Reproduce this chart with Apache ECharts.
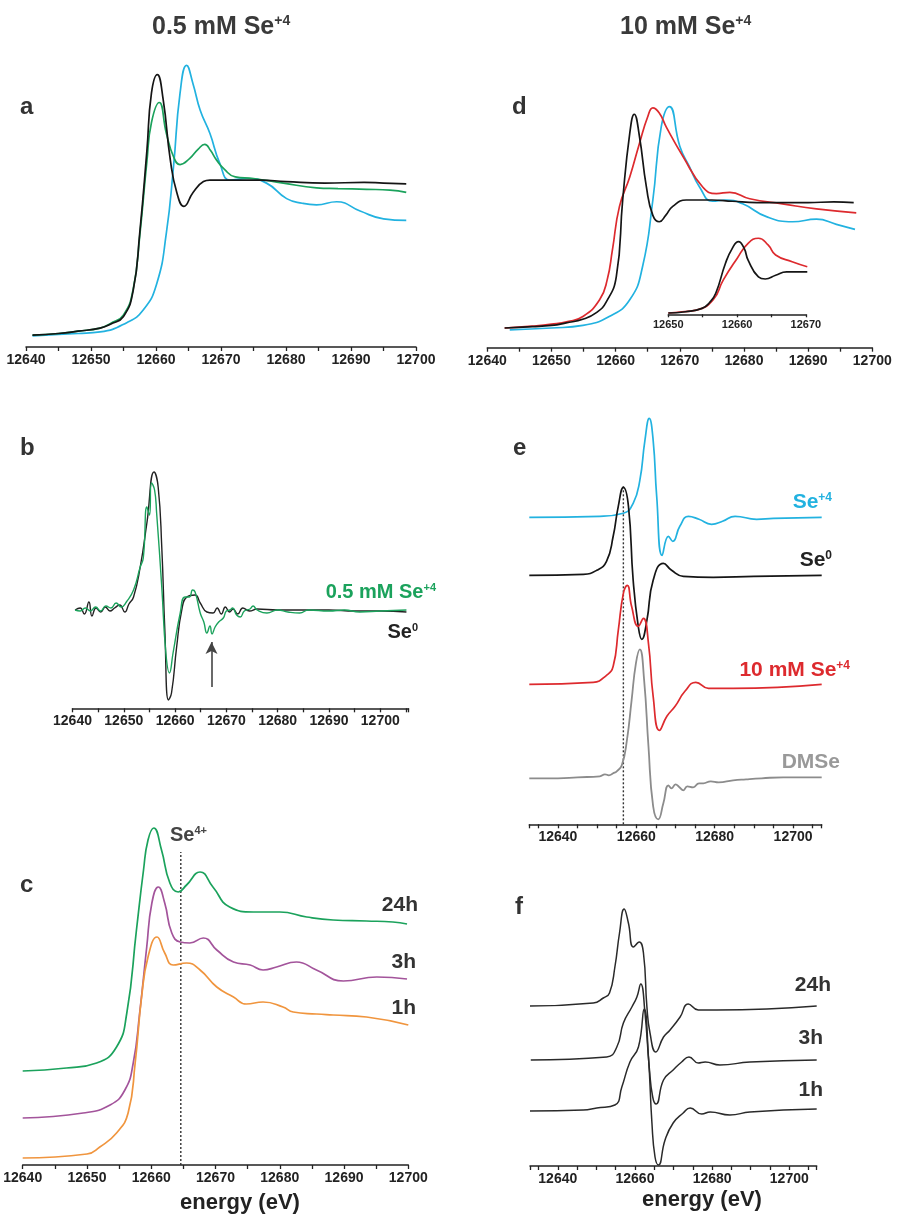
<!DOCTYPE html>
<html>
<head>
<meta charset="utf-8">
<title>Se K-edge XANES</title>
<script src="https://cdn.jsdelivr.net/npm/echarts@6/dist/echarts.min.js"></script>
<style>
  html, body { margin: 0; padding: 0; background: #fff; }
  #main { width: 899px; height: 1216px; }
</style>
</head>
<body>
<div id="main"></div>
<script>
// ---- data: [energy eV, normalised value] ----

// a: XANES, 0.5 mM Se+4
var aSe0 = [[12641, 0], [12645, 0.01], [12648, 0.025], [12651.4, 0.045], [12653, 0.07], [12655, 0.12], [12656.5, 0.29], [12657.5, 0.66], [12658.6, 1.19], [12659.3, 1.56], [12660.2, 1.68], [12661.1, 1.52], [12662.2, 1.13], [12663.2, 0.92], [12664.3, 0.83], [12665.7, 0.92], [12667.3, 0.99], [12668.3, 1.0], [12672, 1.0], [12676, 1.0], [12680, 0.99], [12686, 0.98], [12692, 0.985], [12695, 0.98], [12698.5, 0.975]];
var aSample = [[12641, 0], [12645, 0.01], [12648, 0.025], [12651.4, 0.045], [12653, 0.075], [12655, 0.13], [12656.5, 0.3], [12657.5, 0.64], [12658.6, 1.12], [12659.3, 1.37], [12660.5, 1.5], [12661.6, 1.3], [12662.7, 1.15], [12663.7, 1.1], [12665.2, 1.14], [12666.5, 1.2], [12667.5, 1.23], [12668.4, 1.19], [12669.3, 1.13], [12670.5, 1.07], [12672.2, 1.02], [12675, 1.01], [12679.6, 0.98], [12684.7, 0.95], [12688, 0.945], [12692.4, 0.94], [12696, 0.935], [12698.5, 0.92]];
var aSe4 = [[12641, -0.005], [12645, 0.005], [12648, 0.01], [12651.4, 0.02], [12655.5, 0.08], [12658, 0.16], [12660.1, 0.33], [12661.6, 0.66], [12662.7, 1.09], [12663.7, 1.56], [12664.7, 1.74], [12665.7, 1.62], [12666.8, 1.45], [12668.3, 1.3], [12669.8, 1.11], [12671.4, 1.0], [12674, 1.01], [12677, 0.98], [12680.1, 0.88], [12682.5, 0.85], [12684.7, 0.84], [12687.8, 0.86], [12691.4, 0.8], [12695, 0.75], [12698.5, 0.74]];

// b: first derivative
var bSe0 = [[12640.5, 0], [12641.5, 0.02], [12642.3, -0.04], [12643.2, 0.08], [12643.8, -0.06], [12644.6, 0.02], [12645.5, -0.02], [12646.4, 0.03], [12647.3, -0.01], [12648.2, 0.02], [12649.2, 0.05], [12650.2, -0.02], [12651, 0.06], [12651.9, 0.13], [12653.2, 0.43], [12654.5, 0.87], [12655.9, 1.38], [12656.7, 1.23], [12657.4, 0.63], [12658, -0.2], [12658.7, -0.9], [12659.3, -0.83], [12660.3, -0.37], [12661.3, 0], [12662.3, 0.13], [12663.9, 0.15], [12664.9, 0.07], [12666.2, -0.02], [12667.4, -0.03], [12668.2, 0.02], [12669, -0.04], [12669.8, 0.03], [12670.6, -0.02], [12671.3, 0.01], [12672.2, -0.04], [12673.2, 0.02], [12674.5, -0.01], [12676, 0.01], [12680, 0], [12685, 0], [12690, 0], [12695, -0.01], [12700, -0.01], [12705.1, -0.02]];
var bSample = [[12640.5, 0], [12641.5, -0.01], [12642.5, 0.02], [12643.5, -0.01], [12644.5, 0.03], [12645.5, -0.01], [12646.5, 0.04], [12647.5, 0.02], [12648.5, 0.07], [12649.5, 0.03], [12650.5, 0.08], [12651.9, 0.2], [12653.2, 0.43], [12653.8, 0.52], [12654.5, 1.03], [12655, 0.95], [12655.4, 1.27], [12656, 1.2], [12656.4, 0.97], [12657.4, 0.23], [12658.2, -0.43], [12658.9, -0.63], [12659.6, -0.43], [12661, -0.03], [12661.9, 0.13], [12662.8, 0.13], [12663.4, 0.2], [12663.9, 0.18], [12664.9, -0.03], [12665.6, -0.12], [12666.2, -0.23], [12666.8, -0.16], [12667.2, -0.24], [12667.8, -0.17], [12668.5, -0.12], [12669.4, -0.08], [12670, -0.01], [12670.7, 0], [12671.2, 0.02], [12672, -0.05], [12672.7, -0.07], [12673.5, -0.01], [12674.6, 0.01], [12675.2, 0.04], [12676, 0], [12677.9, -0.03], [12680, 0], [12682, -0.02], [12684.3, -0.03], [12686, 0], [12690, -0.01], [12693, 0], [12696, -0.02], [12700, -0.01], [12705.1, 0]];
var bArrow = [12667.1, -0.77, -0.32]; // energy, tail, head

// c: time series, 0.5 mM (offset stack)
var c24h = [[12640, 0.94], [12646.8, 0.97], [12651.5, 1.02], [12654.6, 1.18], [12656.2, 1.52], [12657.7, 2.35], [12658.8, 2.95], [12659.5, 3.25], [12660.4, 3.37], [12661.6, 3.15], [12662.9, 2.82], [12664.2, 2.73], [12665.5, 2.8], [12667.6, 2.93], [12669.6, 2.78], [12672.2, 2.58], [12675.9, 2.53], [12680, 2.53], [12684.2, 2.48], [12688.3, 2.45], [12693.5, 2.44], [12697.6, 2.43], [12699.8, 2.41]];
var c3h = [[12640, 0.47], [12649.4, 0.52], [12653.6, 0.6], [12655.9, 0.75], [12657.2, 1.02], [12658.2, 1.52], [12659.3, 2.18], [12660.1, 2.62], [12661.1, 2.78], [12662.1, 2.62], [12663.2, 2.32], [12664.5, 2.23], [12666, 2.22], [12668.1, 2.27], [12670.2, 2.15], [12672.8, 2.03], [12675.4, 2.0], [12677.4, 1.95], [12679.5, 1.98], [12682.6, 2.03], [12685.7, 1.95], [12689.9, 1.84], [12695.1, 1.88], [12699.8, 1.86]];
var c1h = [[12640, 0.07], [12650, 0.11], [12652, 0.18], [12654.6, 0.32], [12656.4, 0.52], [12657.5, 1.02], [12658.5, 1.68], [12659.5, 2.08], [12660.9, 2.28], [12662.1, 2.12], [12663.4, 2.0], [12665.5, 2.02], [12667.6, 1.95], [12670.2, 1.78], [12672.8, 1.68], [12674.8, 1.61], [12677.4, 1.63], [12680.5, 1.58], [12682.1, 1.53], [12685.7, 1.51], [12688.3, 1.5], [12693.5, 1.48], [12700, 1.4]];
var cSe4Line = [12664.6, 0, 3.13];

// d: XANES, 10 mM Se+4, with inset
var dSe0 = [[12642.7, 0], [12647, 0.01], [12650, 0.02], [12652.3, 0.04], [12655, 0.07], [12657, 0.12], [12658.5, 0.2], [12660.1, 0.4], [12661.1, 1.0], [12662.2, 1.52], [12662.9, 1.67], [12663.7, 1.5], [12664.8, 1.1], [12665.8, 0.88], [12666.8, 0.83], [12667.8, 0.88], [12668.9, 0.95], [12671, 1.0], [12675, 1.0], [12678.2, 0.99], [12682, 0.98], [12690, 0.98], [12694, 0.985], [12697.1, 0.98]];
var dSample = [[12642.7, 0], [12647, 0.015], [12650, 0.03], [12652.5, 0.05], [12654.9, 0.09], [12657.5, 0.22], [12658.7, 0.38], [12659.5, 0.61], [12660.6, 0.95], [12662.2, 1.18], [12663.7, 1.44], [12665, 1.65], [12665.8, 1.72], [12666.8, 1.68], [12667.9, 1.57], [12670.5, 1.34], [12673.6, 1.1], [12675.7, 1.05], [12677.8, 1.06], [12680.9, 1.01], [12686, 0.97], [12691.3, 0.93], [12697.5, 0.9]];
var dSe4 = [[12643.5, -0.015], [12650, 0], [12654.9, 0.02], [12659, 0.09], [12662.2, 0.22], [12664.2, 0.48], [12665.8, 1.0], [12667.1, 1.57], [12668.4, 1.73], [12670, 1.42], [12671.5, 1.26], [12673.1, 1.1], [12675.1, 0.99], [12677.2, 1.0], [12679.8, 0.97], [12683.5, 0.87], [12687.6, 0.83], [12691.3, 0.85], [12694.4, 0.81], [12697.3, 0.77]];
var insetSe0 = [[12650, 0], [12652.5, 0.03], [12654.9, 0.11], [12656, 0.25], [12656.9, 0.47], [12658.3, 1.18], [12659.3, 1.54], [12660.2, 1.7], [12661, 1.55], [12661.6, 1.26], [12663.1, 0.86], [12664.1, 0.81], [12665.6, 0.9], [12667.2, 0.98], [12670.2, 0.98]];
var insetSample = [[12650, 0], [12652, 0.03], [12654.1, 0.07], [12656.5, 0.31], [12658, 0.79], [12660, 1.3], [12661.6, 1.66], [12663.1, 1.78], [12664.5, 1.62], [12665.6, 1.38], [12668, 1.22], [12670.2, 1.1]];

// e: first derivatives, offset stack
var eSe4 = [[12632.7, 3.07], [12650.7, 3.08], [12656.7, 3.11], [12659.2, 3.21], [12660.9, 3.44], [12662.2, 3.84], [12663.3, 4.06], [12664.3, 3.84], [12665.2, 3.28], [12666.6, 2.69], [12668.2, 2.88], [12669.3, 2.83], [12671.1, 2.98], [12673.3, 3.08], [12676, 3.05], [12679.2, 3.0], [12682, 3.03], [12685.2, 3.08], [12690.7, 3.05], [12695, 3.06], [12707.3, 3.07]];
var eSe0 = [[12632.7, 2.49], [12646.5, 2.5], [12649.9, 2.54], [12652.4, 2.63], [12654.1, 2.88], [12655.4, 3.18], [12656.7, 3.37], [12658, 3.18], [12659.2, 2.44], [12660.5, 1.98], [12661.4, 1.85], [12662.7, 2.04], [12664.3, 2.44], [12666.9, 2.61], [12669, 2.54], [12672, 2.48], [12679.6, 2.47], [12690, 2.48], [12707.3, 2.49]];
var eSample = [[12632.7, 1.4], [12649, 1.42], [12652.4, 1.49], [12654.1, 1.58], [12655.4, 1.94], [12656.7, 2.31], [12657.7, 2.39], [12658.8, 2.18], [12660.5, 1.98], [12661.8, 2.06], [12663.1, 1.81], [12664.3, 1.28], [12665.9, 0.94], [12667.8, 1.08], [12669.9, 1.18], [12672.4, 1.33], [12675.2, 1.42], [12678.4, 1.36], [12684.7, 1.36], [12707.3, 1.4]];
var eDMSe = [[12632.7, 0.46], [12640, 0.46], [12645, 0.47], [12650.7, 0.48], [12652, 0.5], [12653, 0.49], [12654.1, 0.51], [12655, 0.53], [12656.3, 0.59], [12657.6, 0.84], [12658.8, 1.24], [12659.9, 1.61], [12660.9, 1.75], [12662, 1.44], [12663.1, 0.78], [12664.3, 0.18], [12665.6, 0.05], [12666.9, 0.21], [12668.2, 0.39], [12669, 0.36], [12670, 0.4], [12671, 0.37], [12672, 0.34], [12673, 0.38], [12674.5, 0.37], [12676, 0.41], [12677.1, 0.41], [12679, 0.43], [12681, 0.42], [12684.7, 0.44], [12688, 0.45], [12692, 0.46], [12697.5, 0.47], [12707.3, 0.47]];
var eSe0Line = [12656.7, 0, 3.38];

// f: derivatives vs time, 10 mM
var f24h = [[12632.8, 1.6], [12649.2, 1.63], [12651.8, 1.68], [12653.4, 1.73], [12654.8, 1.99], [12656, 2.33], [12657.2, 2.57], [12658.3, 2.43], [12659.6, 2.19], [12661.1, 2.24], [12662.2, 2.13], [12663.1, 1.59], [12663.9, 1.33], [12665.4, 1.14], [12667.4, 1.29], [12669.1, 1.36], [12671.7, 1.49], [12673.8, 1.62], [12676.4, 1.56], [12681.2, 1.56], [12707.1, 1.6]];
var f3h = [[12633, 1.06], [12652.7, 1.09], [12655.3, 1.19], [12657, 1.43], [12659.2, 1.59], [12660.5, 1.69], [12661.5, 1.82], [12662.6, 1.53], [12663.7, 0.99], [12664.6, 0.69], [12665.5, 0.62], [12667.4, 0.86], [12669.9, 0.96], [12672.1, 1.04], [12674, 1.09], [12676.4, 1.03], [12678.2, 1.04], [12682, 1.01], [12689.8, 1.04], [12707.1, 1.06]];
var f1h = [[12632.8, 0.55], [12646.6, 0.56], [12650.1, 0.58], [12654.8, 0.61], [12656.6, 0.79], [12658.7, 1.04], [12660.9, 1.19], [12662.4, 1.57], [12663.5, 1.09], [12664.4, 0.43], [12665.2, 0.09], [12666.1, 0.01], [12667.8, 0.26], [12669.9, 0.43], [12672.5, 0.53], [12674.3, 0.58], [12677.3, 0.52], [12679.5, 0.54], [12684.6, 0.51], [12689.8, 0.54], [12707.1, 0.57]];

// ---- styling ----
var C_BLACK = '#151515', C_CYAN = '#22b2e0', C_GREEN = '#1ba25c', C_RED = '#dd2a2e';
var C_GRAY = '#8c8c8c', C_PURPLE = '#a3549b', C_ORANGE = '#f0953e', C_TEXT = '#333';
var FONT = 'Liberation Sans, Arial, sans-serif';

// panel boxes in px: left, top, width, height, x range, y range, label step
var panels = [
  { left: 26, top: 40.5, width: 390, height: 306.5, x: [12640, 12700], y: [-0.077, 1.9], step: 10 },   // a
  { left: 72.5, top: 460, width: 336, height: 248.3, x: [12640, 12705.5], y: [-0.983, 1.5], step: 10 }, // b
  { left: 22.7, top: 765, width: 385.6, height: 400, x: [12640, 12700], y: [0, 4], step: 10 },         // c
  { left: 487.3, top: 84.8, width: 385, height: 262.9, x: [12640, 12700], y: [-0.154, 1.9], step: 10 }, // d
  { left: 668.3, top: 233.2, width: 137.6, height: 81.1, x: [12650, 12670], y: [-0.031, 1.9], step: 10, small: true }, // inset
  { left: 529.3, top: 404.3, width: 292.4, height: 420, x: [12632.7, 12707.3], y: [0, 4.2], step: 20, auto: true }, // e
  { left: 530, top: 886, width: 286.7, height: 280, x: [12632.8, 12707.1], y: [0, 2.8], step: 20, auto: true }      // f
];

function line(idx, data, color, width) {
  return {
    type: 'line', xAxisIndex: idx, yAxisIndex: idx, data: data,
    showSymbol: false, symbol: 'none', smooth: 0.5,
    lineStyle: { color: color, width: width || 1.7 }, silent: true, z: 3
  };
}
function vline(idx, v) {
  return {
    type: 'line', xAxisIndex: idx, yAxisIndex: idx,
    data: [[v[0], v[1]], [v[0], v[2]]], showSymbol: false, symbol: 'none',
    lineStyle: { color: '#333', width: 1.4, type: [2, 2] }, silent: true, z: 2
  };
}
function txt(x, y, text, size, color, align) {
  return {
    type: 'text', x: x, y: y, silent: true,
    style: {
      text: text, fill: color || C_TEXT, font: '700 ' + size + 'px ' + FONT,
      textAlign: align || 'left', textVerticalAlign: 'middle',
      rich: { s: { fontSize: Math.round(size * 0.55), fontWeight: 700, fontFamily: FONT, fill: color || C_TEXT, verticalAlign: 'top' } }
    }
  };
}

var grids = [], xAxes = [], yAxes = [];
panels.forEach(function (p) {
  grids.push({ left: p.left, top: p.top, width: p.width, height: p.height, containLabel: false });
  var xa = {
    type: 'value', gridIndex: grids.length - 1, min: p.x[0], max: p.x[1],
    axisLine: { show: true, onZero: false, lineStyle: { color: '#222', width: 1.5 } },
    axisTick: { show: true, length: p.small ? 3 : 4, lineStyle: { color: '#222', width: 1.3 } },
    axisLabel: {
      show: true, fontSize: p.small ? 11 : 14, fontWeight: 'bold', fontFamily: FONT, color: '#222', margin: p.small ? 5 : 6,
      formatter: (function (step) { return function (v) { return v % step === 0 ? String(v) : ''; }; })(p.step)
    },
    splitLine: { show: false }
  };
  if (p.auto) { xa.splitNumber = 15; } else { xa.interval = 5; }
  xAxes.push(xa);
  yAxes.push({ type: 'value', gridIndex: grids.length - 1, min: p.y[0], max: p.y[1], show: false });
});

var series = [
  line(0, aSe4, C_CYAN), line(0, aSample, C_GREEN), line(0, aSe0, C_BLACK),
  line(1, bSe0, '#222', 1.4), line(1, bSample, C_GREEN, 1.4),
  {
    type: 'line', xAxisIndex: 1, yAxisIndex: 1, data: [], silent: true,
    markLine: {
      silent: true, symbol: ['none', 'arrow'], symbolSize: [9, 12], label: { show: false },
      lineStyle: { color: '#444', width: 1.6, type: 'solid' },
      data: [[{ coord: [bArrow[0], bArrow[1]] }, { coord: [bArrow[0], bArrow[2]] }]]
    }
  },
  vline(2, cSe4Line), line(2, c24h, C_GREEN), line(2, c3h, C_PURPLE), line(2, c1h, C_ORANGE),
  line(3, dSe4, C_CYAN), line(3, dSample, C_RED), line(3, dSe0, C_BLACK),
  line(4, insetSample, C_RED), line(4, insetSe0, C_BLACK),
  vline(5, eSe0Line), line(5, eSe4, C_CYAN), line(5, eSe0, C_BLACK), line(5, eSample, C_RED), line(5, eDMSe, C_GRAY, 1.8),
  line(6, f24h, '#2a2a2a', 1.5), line(6, f3h, '#2a2a2a', 1.5), line(6, f1h, '#2a2a2a', 1.5)
];

var texts = [
  txt(152, 27, '0.5 mM Se{s|+4}', 25, '#3a3a3a'),
  txt(620, 27, '10 mM Se{s|+4}', 25, '#3a3a3a'),
  txt(20, 107, 'a', 24), txt(512, 107, 'd', 24),
  txt(20, 448, 'b', 24), txt(513, 448, 'e', 24),
  txt(20, 885, 'c', 24), txt(515, 907, 'f', 24),
  txt(436, 592, '0.5 mM Se{s|+4}', 20, C_GREEN, 'right'),
  txt(418, 632, 'Se{s|0}', 20, '#222', 'right'),
  txt(170, 835, 'Se{s|4+}', 20, '#444'),
  txt(418, 905, '24h', 21, C_TEXT, 'right'), txt(416, 962, '3h', 21, C_TEXT, 'right'), txt(416, 1008, '1h', 21, C_TEXT, 'right'),
  txt(240, 1203, 'energy (eV)', 22, '#222', 'center'),
  txt(832, 502, 'Se{s|+4}', 21, C_CYAN, 'right'),
  txt(832, 560, 'Se{s|0}', 21, '#222', 'right'),
  txt(850, 670, '10 mM Se{s|+4}', 21, C_RED, 'right'),
  txt(840, 762, 'DMSe', 21, '#999', 'right'),
  txt(831, 985, '24h', 21, C_TEXT, 'right'), txt(823, 1038, '3h', 21, C_TEXT, 'right'), txt(823, 1090, '1h', 21, C_TEXT, 'right'),
  txt(702, 1200, 'energy (eV)', 22, '#222', 'center')
];

var chart = echarts.init(document.getElementById('main'), null, { renderer: 'canvas' });
chart.setOption({
  backgroundColor: '#fff',
  animation: false,
  grid: grids,
  xAxis: xAxes,
  yAxis: yAxes,
  series: series,
  graphic: texts
});
</script>
</body>
</html>
